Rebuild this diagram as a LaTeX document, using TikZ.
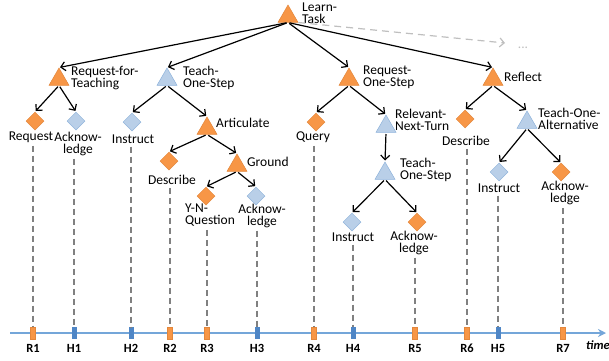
\documentclass[tikz,border=0pt]{standalone}
\usepackage{fontspec}
\setmainfont{Carlito}
\usetikzlibrary{shapes.geometric,arrows.meta}
\definecolor{orng}{HTML}{F79646}
\definecolor{orngdk}{HTML}{E3873C}
\definecolor{lblue}{HTML}{B9CFE8}
\definecolor{lbluedk}{HTML}{8FB3DB}
\definecolor{tlblue}{HTML}{74A6D9}
\definecolor{tickblue}{HTML}{4F86C6}
\definecolor{dashgray}{HTML}{808080}
\definecolor{ltgray}{HTML}{BFBFBF}
\tikzset{
  tri/.style={regular polygon, regular polygon sides=3, minimum size=23pt, inner sep=0pt, line width=0.5pt},
  otri/.style={tri, fill=orng, draw=orngdk},
  btri/.style={tri, fill=lblue, draw=lbluedk},
  dia/.style={diamond, minimum width=18pt, minimum height=18pt, inner sep=0pt, line width=0.5pt},
  odia/.style={dia, fill=orng, draw=orngdk},
  bdia/.style={dia, fill=lblue, draw=lbluedk},
  lbl/.style={font=\fontsize{13.5}{12}\selectfont, inner sep=0pt, align=center},
  llbl/.style={lbl, align=left, anchor=west},
  conn/.style={draw=black, line width=1.2pt, shorten <=1.5pt, shorten >=1pt, -{Straight Barb[length=4.5pt,width=9pt]}},
  gconn/.style={draw=ltgray, line width=1.2pt, dash pattern=on 7pt off 5pt, -{Straight Barb[length=4.5pt,width=9pt]}},
  vdash/.style={draw=dashgray, line width=1.2pt, dash pattern=on 6pt off 4pt},
  tlin/.style={draw=tlblue, line width=1.8pt, -{Stealth[length=8pt,width=8pt]}},
  tickbox/.style={rectangle, minimum width=5pt, minimum height=12pt, inner sep=0pt},
  rtick/.style={tickbox, fill=orng, draw=orngdk, line width=0.4pt},
  htick/.style={tickbox, fill=tickblue},
  tlbl/.style={font=\fontsize{12.5}{12}\selectfont\bfseries, inner sep=0pt}
}
\begin{document}
\begin{tikzpicture}[x=1pt,y=-1pt]
\useasboundingbox (0,0) rectangle (609,360);
% timeline
\coordinate (T0) at (10,333);
\coordinate (T1) at (606,333);
\draw[tlin] (T0) -- (T1);
\node[font=\fontsize{12.5}{12}\selectfont\bfseries\itshape, inner sep=0pt, anchor=west] (time) at (586,345) {time};
% ticks
\node[rtick] (R1) at (33,333) {};
\node[htick] (H1) at (74,333) {};
\node[htick] (H2) at (131,333) {};
\node[rtick] (R2) at (170,333) {};
\node[rtick] (R3) at (207,333) {};
\node[htick] (H3) at (257,333) {};
\node[rtick] (R4) at (314,333) {};
\node[htick] (H4) at (353,333) {};
\node[rtick] (R5) at (415,333) {};
\node[rtick] (R6) at (467,333) {};
\node[htick] (H5) at (498,333) {};
\node[rtick] (R7) at (563,333) {};
\node[tlbl] (lR1) at (33,348) {R1};
\node[tlbl] (lH1) at (74,348) {H1};
\node[tlbl] (lH2) at (131,348) {H2};
\node[tlbl] (lR2) at (170,348) {R2};
\node[tlbl] (lR3) at (207,348) {R3};
\node[tlbl] (lH3) at (257,348) {H3};
\node[tlbl] (lR4) at (314,348) {R4};
\node[tlbl] (lH4) at (353,348) {H4};
\node[tlbl] (lR5) at (415,348) {R5};
\node[tlbl] (lR6) at (467,348) {R6};
\node[tlbl] (lH5) at (498,348) {H5};
\node[tlbl] (lR7) at (563,348) {R7};
% triangles
\node[otri] (LT) at (288,16.5) {};
\node[llbl] (LTl) at (302,13.5) {Learn-\\Task};
\node[otri] (RfT) at (59,79.5) {};
\node[llbl] (RfTl) at (71,78.5) {Request-for-\\Teaching};
\node[btri] (TOS) at (167,79.5) {};
\node[llbl] (TOSl) at (183,77.5) {Teach-\\One-Step};
\node[otri] (RoS) at (349,79.5) {};
\node[llbl] (RoSl) at (363,77.5) {Request-\\One-Step};
\node[otri] (Ref) at (493,79.5) {};
\node[llbl] (Refl) at (504,77) {Reflect};
\node[otri] (Art) at (207,128.5) {};
\node[llbl] (Artl) at (216,123) {Articulate};
\node[otri] (Gr) at (237,165.5) {};
\node[llbl] (Grl) at (247,162) {Ground};
\node[btri] (RNT) at (386,126.5) {};
\node[llbl] (RNTl) at (395,120) {Relevant-\\Next-Turn};
\node[btri] (TOSb) at (385,173.5) {};
\node[llbl] (TOSbl) at (400,169.5) {Teach-\\One-Step};
\node[btri] (TOA) at (527,122.5) {};
\node[llbl] (TOAl) at (538,119) {Teach-One-\\Alternative};
% diamonds
\node[odia] (Req) at (35,121) {};
\node[lbl] (Reql) at (31,137) {Request};
\node[bdia] (Ack1) at (76,121) {};
\node[lbl] (Ack1l) at (78,143.5) {Acknow-\\ledge};
\node[bdia] (Ins1) at (132,122) {};
\node[lbl] (Ins1l) at (133,139) {Instruct};
\node[odia] (Des1) at (169,161) {};
\node[lbl] (Des1l) at (172,180) {Describe};
\node[odia] (YN) at (206,196) {};
\node[lbl, align=left] (YNl) at (210,215.5) {Y-N-\\Question};
\node[bdia] (Ack2) at (256,196) {};
\node[lbl] (Ack2l) at (262,215.5) {Acknow-\\ledge};
\node[odia] (Qry) at (316,122) {};
\node[lbl] (Qryl) at (313,137) {Query};
\node[bdia] (Ins2) at (352,222) {};
\node[lbl] (Ins2l) at (353,237) {Instruct};
\node[odia] (Ack3) at (417,222) {};
\node[lbl] (Ack3l) at (414,242.5) {Acknow-\\ledge};
\node[odia] (Des2) at (465,119) {};
\node[lbl] (Des2l) at (466,141) {Describe};
\node[bdia] (Ins3) at (499,172) {};
\node[lbl] (Ins3l) at (499,188) {Instruct};
\node[odia] (Ack4) at (561,172) {};
\node[lbl] (Ack4l) at (565,193) {Acknow-\\ledge};
% more
\coordinate (more) at (505,43);
\node[lbl, text=ltgray] (dots) at (523,48) {...};
\draw[gconn] (LT.corner 3) -- (more);
% connectors
\draw[conn] (LT.south) -- (RfT.north);
\draw[conn] (LT.south) -- (TOS.north);
\draw[conn] (LT.south) -- (RoS.north);
\draw[conn] (LT.south) -- (Ref.north);
\draw[conn] (RfT.south) -- (Req.north);
\draw[conn] (RfT.south) -- (Ack1.north);
\draw[conn] (TOS.south) -- (Ins1.north);
\draw[conn] (TOS.south) -- (Art.north);
\draw[conn] (Art.south) -- (Des1.north);
\draw[conn] (Art.south) -- (Gr.north);
\draw[conn] (Gr.south) -- (YN.north);
\draw[conn] (Gr.south) -- (Ack2.north);
\draw[conn] (RoS.south) -- (Qry.north);
\draw[conn] (RoS.south) -- (RNT.north);
\draw[conn] (RNT.south) -- (TOSb.north);
\draw[conn] (TOSb.south) -- (Ins2.north);
\draw[conn] (TOSb.south) -- (Ack3.north);
\draw[conn] (Ref.south) -- (Des2.north);
\draw[conn] (Ref.south) -- (TOA.north);
\draw[conn] (TOA.south) -- (Ins3.north);
\draw[conn] (TOA.south) -- (Ack4.north);
% dashed drops
\draw[vdash] ([yshift=-3pt]Reql.south -| R1.north) -- (R1.north);
\draw[vdash] ([yshift=-3pt]Ack1l.south -| H1.north) -- (H1.north);
\draw[vdash] ([yshift=-3pt]Ins1l.south -| H2.north) -- (H2.north);
\draw[vdash] ([yshift=-3pt]Des1l.south -| R2.north) -- (R2.north);
\draw[vdash] ([yshift=-3pt]YNl.south -| R3.north) -- (R3.north);
\draw[vdash] ([yshift=-3pt]Ack2l.south -| H3.north) -- (H3.north);
\draw[vdash] ([yshift=-3pt]Qryl.south -| R4.north) -- (R4.north);
\draw[vdash] ([yshift=-3pt]Ins2l.south -| H4.north) -- (H4.north);
\draw[vdash] ([yshift=-3pt]Ack3l.south -| R5.north) -- (R5.north);
\draw[vdash] ([yshift=-3pt]Des2l.south -| R6.north) -- (R6.north);
\draw[vdash] ([yshift=-3pt]Ins3l.south -| H5.north) -- (H5.north);
\draw[vdash] ([yshift=-3pt]Ack4l.south -| R7.north) -- (R7.north);
\end{tikzpicture}
\end{document}
